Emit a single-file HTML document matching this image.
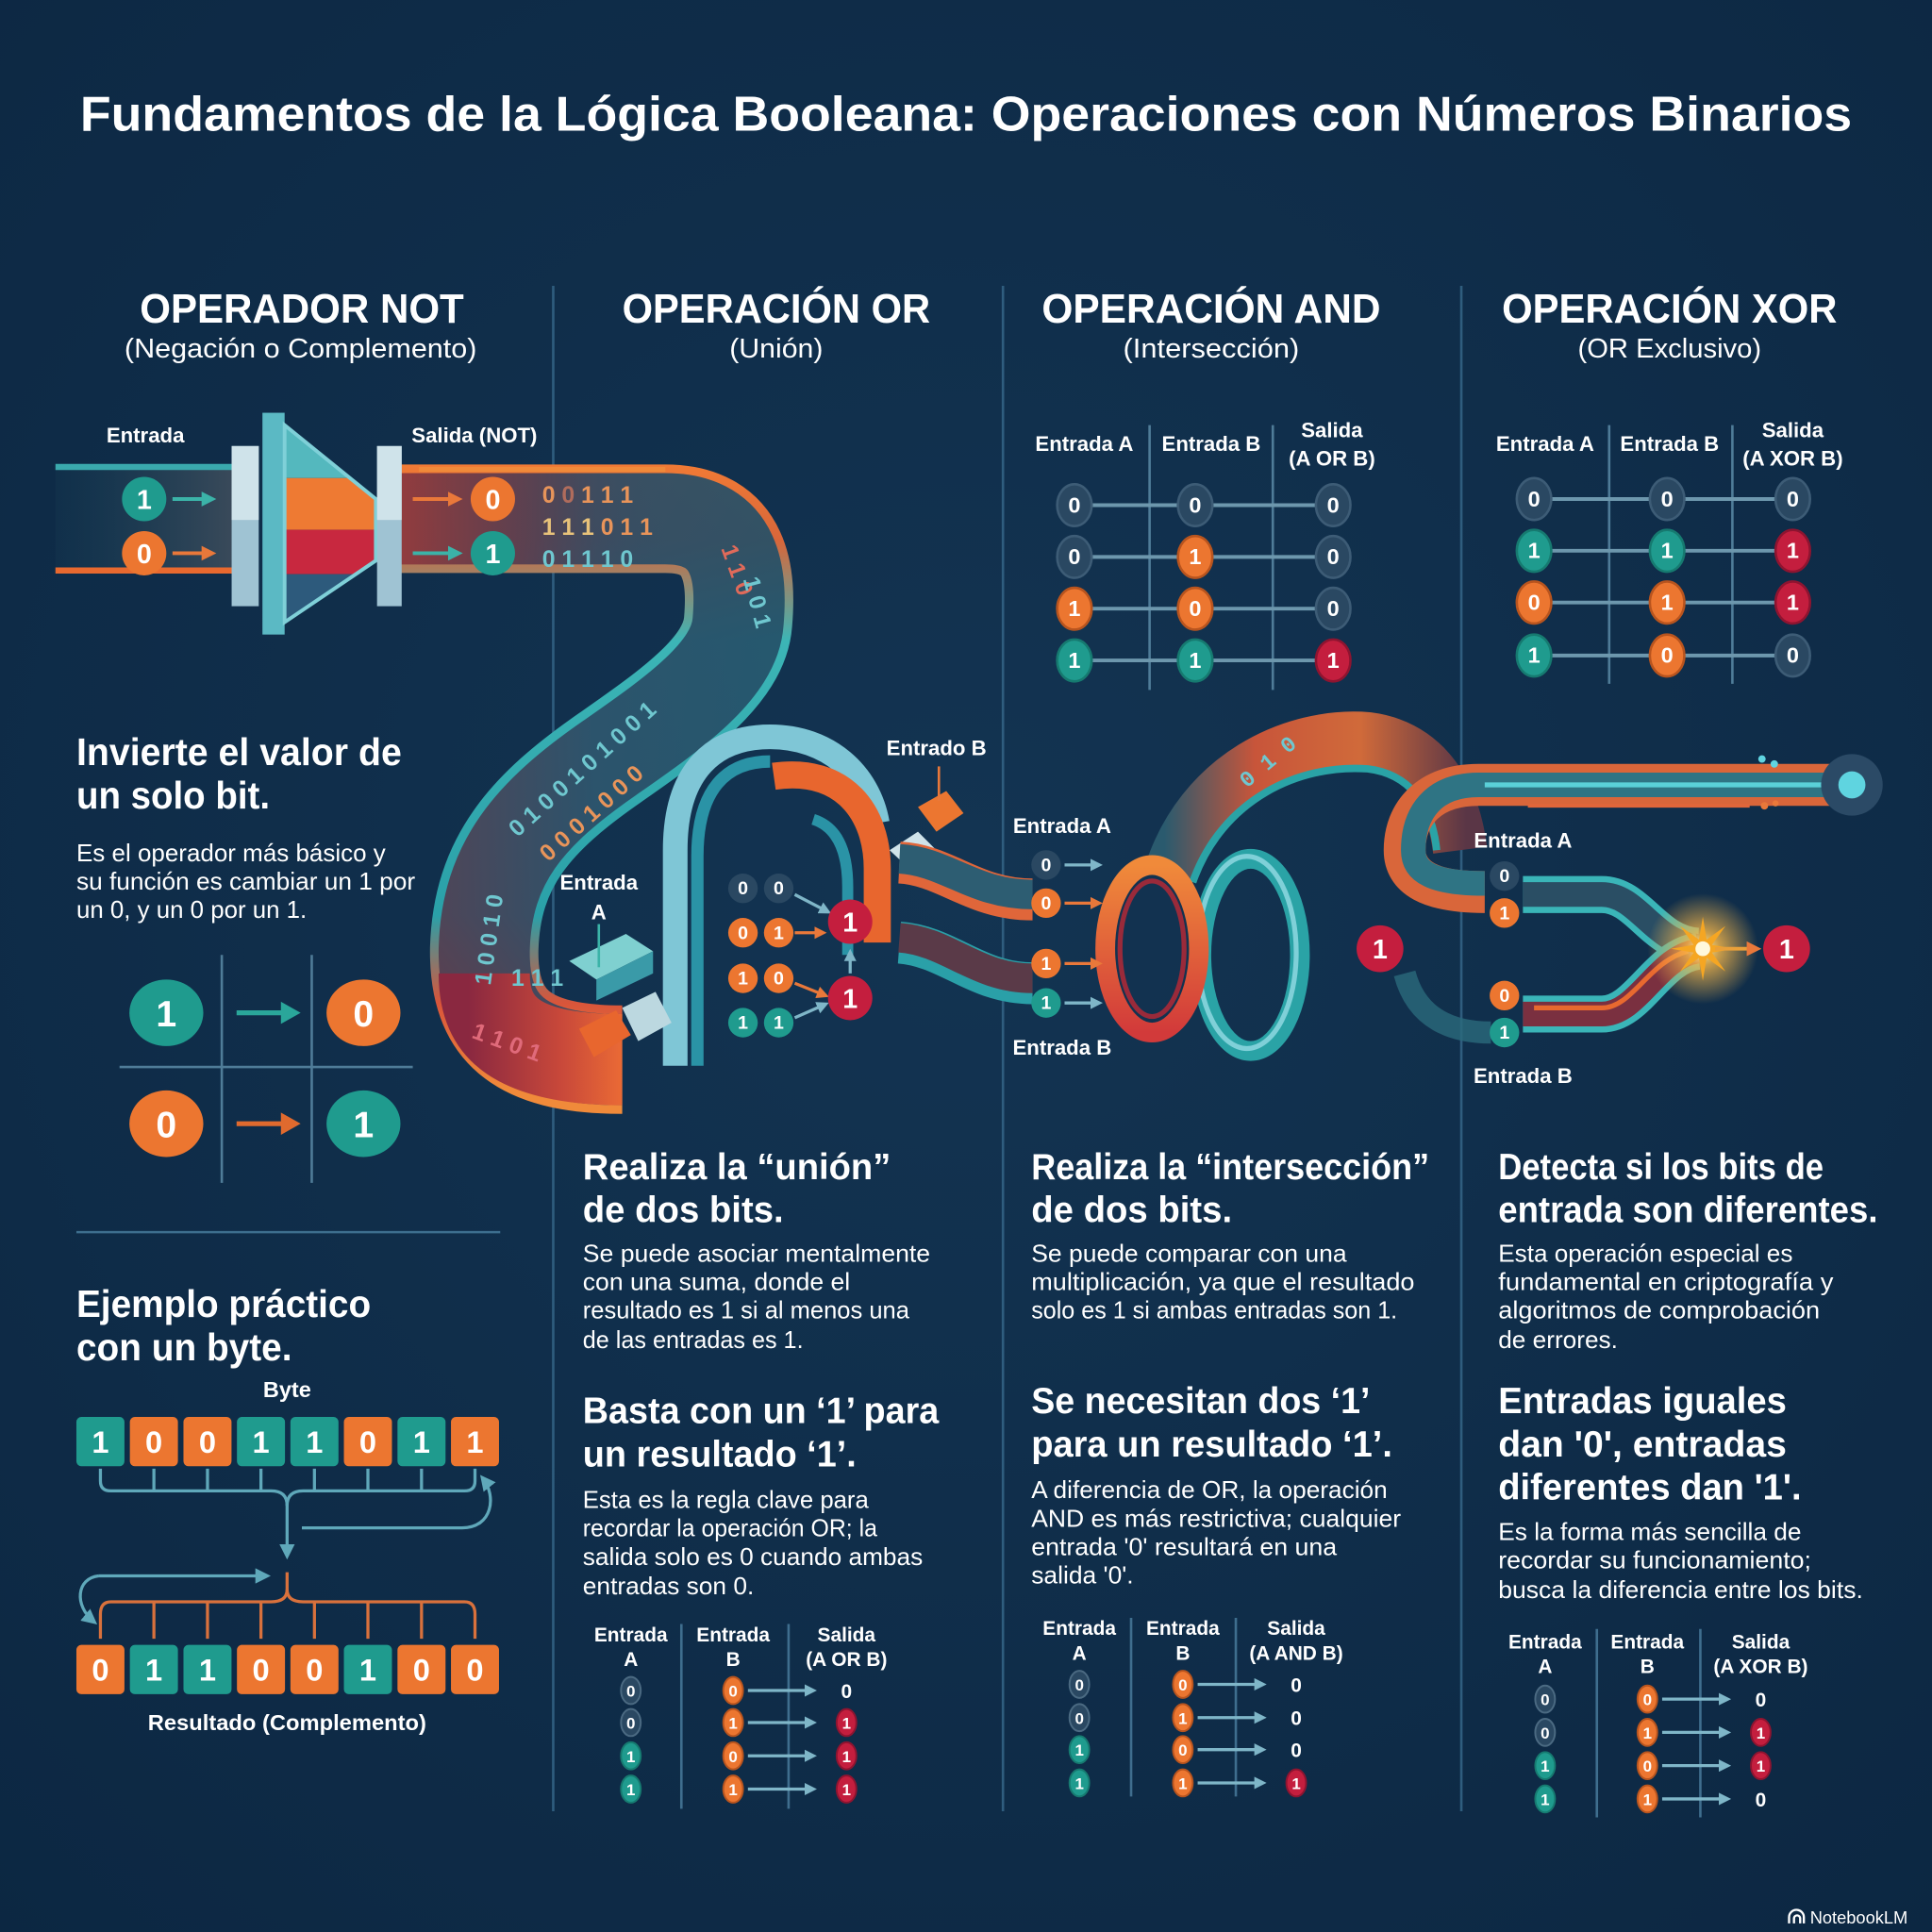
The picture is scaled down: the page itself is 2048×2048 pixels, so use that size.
<!DOCTYPE html>
<html><head><meta charset="utf-8">
<style>
html,body{margin:0;padding:0;background:#0f2c48;}
svg{display:block}
text{font-family:"Liberation Sans","DejaVu Sans",sans-serif;}
.b{font-weight:bold}
.c{text-anchor:middle}
.n{font-family:"Liberation Mono","DejaVu Sans Mono",monospace;font-weight:bold}
</style></head><body>
<svg width="2048" height="2048" viewBox="0 0 1568 1568" xmlns="http://www.w3.org/2000/svg">
<defs>
 <radialGradient id="bg" cx="50%" cy="45%" r="75%"><stop offset="0" stop-color="#133452"/><stop offset="1" stop-color="#0c2742"/></radialGradient>
 <linearGradient id="band" x1="0" y1="0" x2="1" y2="0"><stop offset="0" stop-color="#1a4257" stop-opacity="0.2"/><stop offset="1" stop-color="#3a4a5a"/></linearGradient>
 <linearGradient id="rib" gradientUnits="userSpaceOnUse" x1="0" y1="378" x2="0" y2="885"><stop offset="0" stop-color="#f07a35"/><stop offset="0.12" stop-color="#d8663a"/><stop offset="0.28" stop-color="#3cb5b6"/><stop offset="0.72" stop-color="#2aa0a8"/><stop offset="0.86" stop-color="#d9553a"/><stop offset="1" stop-color="#f08a3a"/></linearGradient>
 <linearGradient id="ribIn" gradientUnits="userSpaceOnUse" x1="325" y1="0" x2="640" y2="0"><stop offset="0" stop-color="#5a3a4c"/><stop offset="0.5" stop-color="#2b4c66"/><stop offset="1" stop-color="#235068"/></linearGradient>
 <linearGradient id="ribTop" gradientUnits="userSpaceOnUse" x1="325" y1="0" x2="540" y2="0"><stop offset="0" stop-color="#9a3c3c" stop-opacity="0.85"/><stop offset="0.5" stop-color="#6a3a48" stop-opacity="0.5"/><stop offset="1" stop-color="#2b4c66" stop-opacity="0"/></linearGradient>
 <linearGradient id="ribBot" gradientUnits="userSpaceOnUse" x1="380" y1="0" x2="505" y2="0"><stop offset="0" stop-color="#8a2840"/><stop offset="0.6" stop-color="#c8483a"/><stop offset="1" stop-color="#ea6a35"/></linearGradient>
 <linearGradient id="arcG" gradientUnits="userSpaceOnUse" x1="945" y1="0" x2="1190" y2="0"><stop offset="0" stop-color="#2a5a6e"/><stop offset="0.3" stop-color="#c8553a"/><stop offset="0.65" stop-color="#d06a3a"/><stop offset="1" stop-color="#5a3646"/></linearGradient>
 <linearGradient id="ringO" x1="0" y1="0" x2="0" y2="1"><stop offset="0" stop-color="#f08a3a"/><stop offset="1" stop-color="#d23a3a"/></linearGradient>
 <radialGradient id="glow"><stop offset="0" stop-color="#fff3b0"/><stop offset="0.3" stop-color="#f7b84a" stop-opacity="0.8"/><stop offset="1" stop-color="#f7b84a" stop-opacity="0"/></radialGradient>
 <marker id="mT" viewBox="0 0 10 10" refX="7" refY="5" markerWidth="4" markerHeight="4" orient="auto"><path d="M0,0 L10,5 L0,10 z" fill="#3bb3a8"/></marker>
 <marker id="mO" viewBox="0 0 10 10" refX="7" refY="5" markerWidth="4" markerHeight="4" orient="auto"><path d="M0,0 L10,5 L0,10 z" fill="#e9783a"/></marker>
 <marker id="mL" viewBox="0 0 10 10" refX="7" refY="5" markerWidth="4" markerHeight="4" orient="auto"><path d="M0,0 L10,5 L0,10 z" fill="#7fb6c8"/></marker>
 <marker id="mB" viewBox="0 0 10 10" refX="7" refY="5" markerWidth="5" markerHeight="5" orient="auto"><path d="M0,0 L10,5 L0,10 z" fill="#5fa8ba"/></marker>
</defs>
<rect width="1568" height="1568" fill="url(#bg)"/>

<!-- dividers -->
<g stroke="#2f5d7e" stroke-width="2">
 <line x1="449" y1="232" x2="449" y2="1470"/>
 <line x1="814" y1="232" x2="814" y2="1470"/>
 <line x1="1186" y1="232" x2="1186" y2="1470"/>
</g>

<!-- Title -->
<g fill="#fff">
<text x="784" y="106" class="b c" font-size="40" textLength="1438" lengthAdjust="spacingAndGlyphs">Fundamentos de la Lógica Booleana: Operaciones con Números Binarios</text>
<text x="245" y="262" class="b c" font-size="33" textLength="263" lengthAdjust="spacingAndGlyphs">OPERADOR NOT</text>
<text x="244" y="290" class="c" font-size="22" textLength="286" lengthAdjust="spacingAndGlyphs">(Negación o Complemento)</text>
<text x="630" y="262" class="b c" font-size="33" textLength="250" lengthAdjust="spacingAndGlyphs">OPERACIÓN OR</text>
<text x="630" y="290" class="c" font-size="22" textLength="76" lengthAdjust="spacingAndGlyphs">(Unión)</text>
<text x="983" y="262" class="b c" font-size="33" textLength="275" lengthAdjust="spacingAndGlyphs">OPERACIÓN AND</text>
<text x="983" y="290" class="c" font-size="22" textLength="143" lengthAdjust="spacingAndGlyphs">(Intersección)</text>
<text x="1355" y="262" class="b c" font-size="33" textLength="272" lengthAdjust="spacingAndGlyphs">OPERACIÓN XOR</text>
<text x="1355" y="290" class="c" font-size="22" textLength="149" lengthAdjust="spacingAndGlyphs">(OR Exclusivo)</text>
</g>

<!-- NOT band -->
<rect x="45" y="378" width="145" height="87" fill="url(#band)"/>
<line x1="45" y1="379" x2="190" y2="379" stroke="#3aa9ad" stroke-width="5"/>
<line x1="45" y1="463" x2="190" y2="463" stroke="#e8692f" stroke-width="5"/>

<!-- ribbon -->
<path d="M325,421 L540,421 C600,421 602,470 599,505 C596,545 545,580 495,615 C430,660 395,700 393,770 C392,830 420,860 505,860" fill="none" stroke="url(#rib)" stroke-width="88"/>
<path d="M325,421 L540,421 C600,421 602,470 599,505 C596,545 545,580 495,615 C430,660 395,700 393,770 C392,830 420,860 505,860" fill="none" stroke="url(#ribIn)" stroke-width="74" opacity="0.92"/>
<path d="M325,421 H540" fill="none" stroke="url(#ribTop)" stroke-width="74"/>
<path d="M393,790 C393,835 420,860 505,860" fill="none" stroke="url(#ribBot)" stroke-width="74"/>
<path d="M340,381 H540" stroke="#f08a3a" stroke-width="4"/>

<!-- ribbon digits -->
<g class="n" font-size="19">
 <text x="440" y="408" fill="#e8945a">0 <tspan fill="#b06c5c">0</tspan> 1 1 1</text>
 <text x="440" y="434" fill="#e8c27a">1 1 1  <tspan fill="#e8945a">0 1 1</tspan></text>
 <text x="440" y="460" fill="#6fc7cf">0 1  1 1 0</text>
 <text x="585" y="445" fill="#e06a5a" transform="rotate(70 585 445)">1 1 0</text>
 <text x="603" y="470" fill="#6fc7cf" transform="rotate(75 603 470)">1 0 1</text>
 <text x="420" y="680" fill="#6fc7cf" transform="rotate(-42 420 680)">0 1 0 0 1 0 1 0 0 1</text>
 <text x="445" y="700" fill="#e8945a" transform="rotate(-42 445 700)">0 0 0 1 0 0 0</text>
 <text x="398" y="800" fill="#6fc7cf" transform="rotate(-82 398 800)">1 0 0 1 0</text>
 <text x="382" y="842" fill="#e06a7a" transform="rotate(20 382 842)">1 1 0 1</text>
 <text x="415" y="800" fill="#6fc7cf">1 1 1</text>
</g>

<!-- NOT gate -->
<rect x="188" y="362" width="22" height="130" fill="#9fc3d3"/>
<rect x="188" y="362" width="22" height="60" fill="#cfe3ea"/>
<rect x="213" y="335" width="18" height="180" fill="#5bb9c4"/>
<clipPath id="fun"><polygon points="231,345 305,405 305,455 231,505"/></clipPath>
<g clip-path="url(#fun)">
 <rect x="231" y="340" width="80" height="48" fill="#54b8be"/>
 <rect x="231" y="388" width="80" height="42" fill="#ee7a33"/>
 <rect x="231" y="430" width="80" height="36" fill="#c8283f"/>
 <rect x="231" y="466" width="80" height="45" fill="#2d5a7c"/>
</g>
<polygon points="231,345 305,405 305,455 231,505" fill="none" stroke="#7fd0d8" stroke-width="3"/>
<rect x="306" y="362" width="20" height="130" fill="#9fc3d3"/>
<rect x="306" y="362" width="20" height="60" fill="#cfe3ea"/>

<!-- NOT circles -->
<circle cx="117" cy="405" r="18" fill="#1f9b8e"/>
<circle cx="117" cy="449" r="18" fill="#ec7630"/>
<circle cx="400" cy="405" r="18" fill="#ec7630"/>
<circle cx="400" cy="449" r="18" fill="#1f9b8e"/>
<line x1="140" y1="405" x2="172" y2="405" stroke="#3bb3a8" stroke-width="3" marker-end="url(#mT)"/>
<line x1="140" y1="449" x2="172" y2="449" stroke="#e9783a" stroke-width="3" marker-end="url(#mO)"/>
<line x1="335" y1="405" x2="372" y2="405" stroke="#e9783a" stroke-width="3" marker-end="url(#mO)"/>
<line x1="335" y1="449" x2="372" y2="449" stroke="#3bb3a8" stroke-width="3" marker-end="url(#mT)"/>
<g fill="#fff" font-size="22">
 <text x="117" y="413" class="b c">1</text><text x="117" y="457" class="b c">0</text>
 <text x="400" y="413" class="b c">0</text><text x="400" y="457" class="b c">1</text>
</g>

<!-- OR arch -->
<path d="M548,865 V690 C548,625 580,598 625,598 C672,598 705,628 712,668" fill="none" stroke="#7fc6d6" stroke-width="20"/>
<path d="M566,865 V695 C566,640 590,618 625,618" fill="none" stroke="#2a93a6" stroke-width="10"/>
<path d="M628,630 C685,622 712,660 712,705 V765" fill="none" stroke="#e8662e" stroke-width="22"/>
<path d="M660,665 C682,672 688,695 688,720 V775" fill="none" stroke="#2a93a6" stroke-width="9"/>
<polygon points="462,780 508,758 530,772 484,795" fill="#7fd0d0"/>
<polygon points="484,795 530,772 530,790 484,812" fill="#3a9aa8"/>
<polygon points="470,835 500,820 512,840 482,858" fill="#e8662e"/>
<polygon points="505,818 532,805 545,830 518,845" fill="#bcd8e0"/>
<polygon points="722,690 745,675 760,690 738,705" fill="#cfe3ea"/>
<polygon points="745,655 768,642 782,660 760,675" fill="#ec7630"/>
<line x1="762" y1="622" x2="762" y2="650" stroke="#e9783a" stroke-width="2"/>
<line x1="486" y1="750" x2="486" y2="785" stroke="#3bb3a8" stroke-width="2"/>

<!-- pipes OR -> AND -->
<path d="M730,700 C768,702 790,730 838,730" fill="none" stroke="#e0663a" stroke-width="34"/>
<path d="M730,697 C768,699 790,726 838,726" fill="none" stroke="#2d5d72" stroke-width="24"/>
<path d="M730,765 C770,768 792,798 838,798" fill="none" stroke="#2aa0a8" stroke-width="34"/>
<path d="M730,761 C770,764 792,794 838,794" fill="none" stroke="#5a3a48" stroke-width="24"/>

<!-- OR inline circles -->
<g stroke-width="2.5" fill="none">
 <line x1="645" y1="726" x2="672" y2="740" stroke="#7fb6c8" marker-end="url(#mL)"/>
 <line x1="645" y1="757" x2="668" y2="757" stroke="#e9783a" marker-end="url(#mO)"/>
 <line x1="645" y1="798" x2="670" y2="808" stroke="#e9783a" marker-end="url(#mO)"/>
 <line x1="645" y1="826" x2="670" y2="815" stroke="#7fb6c8" marker-end="url(#mL)"/>
 <line x1="690" y1="790" x2="690" y2="773" stroke="#7fb6c8" marker-end="url(#mL)"/>
</g>
<g>
 <circle cx="603" cy="721" r="12" fill="#2a4862"/><circle cx="632" cy="721" r="12" fill="#2a4862"/>
 <circle cx="603" cy="757" r="12" fill="#ec7630"/><circle cx="632" cy="757" r="12" fill="#ec7630"/>
 <circle cx="603" cy="794" r="12" fill="#ec7630"/><circle cx="632" cy="794" r="12" fill="#ec7630"/>
 <circle cx="603" cy="830" r="12" fill="#1f9b8e"/><circle cx="632" cy="830" r="12" fill="#1f9b8e"/>
 <circle cx="690" cy="748" r="18" fill="#c41e3e"/><circle cx="690" cy="810" r="18" fill="#c41e3e"/>
</g>
<g fill="#fff" font-size="15">
 <text x="603" y="726" class="b c">0</text><text x="632" y="726" class="b c">0</text>
 <text x="603" y="762" class="b c">0</text><text x="632" y="762" class="b c">1</text>
 <text x="603" y="799" class="b c">1</text><text x="632" y="799" class="b c">0</text>
 <text x="603" y="835" class="b c">1</text><text x="632" y="835" class="b c">1</text>
 <text x="690" y="756" class="b c" font-size="22">1</text><text x="690" y="818" class="b c" font-size="22">1</text>
</g>

<!-- AND arc -->
<path d="M950,710 C975,630 1050,595 1110,600 C1150,605 1178,635 1185,690" fill="none" stroke="url(#arcG)" stroke-width="44"/>
<path d="M968,716 C992,648 1055,620 1110,624 C1143,628 1162,652 1166,690" fill="none" stroke="#2aa3a6" stroke-width="6"/>
<text x="1012" y="640" class="n" font-size="18" fill="#6fc7cf" transform="rotate(-40 1012 640)">0 1 0</text>

<!-- AND rings -->
<ellipse cx="1015" cy="775" rx="40" ry="78" fill="none" stroke="#2aa3a6" stroke-width="16"/>
<ellipse cx="1015" cy="775" rx="40" ry="78" fill="none" stroke="#7fd0d8" stroke-width="4" transform="translate(-3,-2)"/>
<ellipse cx="935" cy="770" rx="38" ry="68" fill="none" stroke="url(#ringO)" stroke-width="16"/>
<ellipse cx="935" cy="770" rx="26" ry="55" fill="none" stroke="#9a2a3a" stroke-width="4"/>

<!-- AND inline circles -->
<g stroke-width="2.5">
 <line x1="864" y1="702" x2="892" y2="702" stroke="#7fb6c8" marker-end="url(#mL)"/>
 <line x1="864" y1="733" x2="892" y2="733" stroke="#e9783a" marker-end="url(#mO)"/>
 <line x1="864" y1="782" x2="892" y2="782" stroke="#e9783a" marker-end="url(#mO)"/>
 <line x1="864" y1="814" x2="892" y2="814" stroke="#7fb6c8" marker-end="url(#mL)"/>
</g>
<circle cx="849" cy="702" r="12" fill="#2a4862"/><circle cx="849" cy="733" r="12" fill="#ec7630"/>
<circle cx="849" cy="782" r="12" fill="#ec7630"/><circle cx="849" cy="814" r="12" fill="#1f9b8e"/>
<circle cx="1120" cy="770" r="19" fill="#c41e3e"/>
<g fill="#fff" font-size="15">
 <text x="849" y="707" class="b c">0</text><text x="849" y="738" class="b c">0</text>
 <text x="849" y="787" class="b c">1</text><text x="849" y="819" class="b c">1</text>
 <text x="1120" y="778" class="b c" font-size="22">1</text>
</g>

<!-- XOR pipes -->
<path d="M1500,637 H1200 C1160,637 1140,660 1140,690 C1140,712 1160,724 1205,724" fill="none" stroke="#d9663a" stroke-width="34"/>
<path d="M1480,637 H1200 C1163,637 1147,660 1147,690 C1147,708 1163,717 1205,717" fill="none" stroke="#2f7484" stroke-width="20"/>
<line x1="1205" y1="637" x2="1492" y2="637" stroke="#5ad0d8" stroke-width="4"/>
<line x1="1240" y1="654" x2="1420" y2="654" stroke="#e0663a" stroke-width="3"/>
<circle cx="1503" cy="637" r="25" fill="#2b4a66"/>
<circle cx="1503" cy="637" r="11" fill="#5fd4e0"/>
<circle cx="1430" cy="616" r="3" fill="#5fd4e0"/><circle cx="1440" cy="620" r="3" fill="#5fd4e0"/>
<circle cx="1432" cy="654" r="3" fill="#e9783a"/><circle cx="1441" cy="652" r="2.5" fill="#e9783a"/>
<path d="M1140,790 C1150,828 1180,838 1210,838" fill="none" stroke="#2a6a7c" stroke-width="18" opacity="0.8"/>
<path d="M1236,726 H1300 C1330,726 1342,766 1378,768" fill="none" stroke="#3ab5b8" stroke-width="30"/>
<path d="M1236,726 H1300 C1330,726 1342,766 1378,768" fill="none" stroke="#2a4e64" stroke-width="20"/>
<path d="M1236,823 H1300 C1330,823 1345,776 1378,772" fill="none" stroke="#3ab5b8" stroke-width="30"/>
<path d="M1236,823 H1300 C1330,823 1345,776 1378,772" fill="none" stroke="#7a3040" stroke-width="20"/>
<path d="M1245,818 H1300 C1325,818 1338,780 1370,772" fill="none" stroke="#e8692f" stroke-width="4"/>
<circle cx="1382" cy="770" r="45" fill="url(#glow)"/>
<polygon points="1408,770 1389.4,773.1 1400.4,788.4 1385.1,777.4 1382,796 1378.9,777.4 1363.6,788.4 1374.6,773.1 1356,770 1374.6,766.9 1363.6,751.6 1378.9,762.6 1382,744 1385.1,762.6 1400.4,751.6 1389.4,766.9" fill="#f5a623"/>
<circle cx="1382" cy="770" r="6" fill="#fff8dc"/>
<line x1="1392" y1="770" x2="1426" y2="770" stroke="#e9a03a" stroke-width="3" marker-end="url(#mO)"/>
<circle cx="1221" cy="711" r="12" fill="#2a4862"/><circle cx="1221" cy="741" r="12" fill="#ec7630"/>
<circle cx="1221" cy="808" r="12" fill="#ec7630"/><circle cx="1221" cy="838" r="12" fill="#1f9b8e"/>
<circle cx="1450" cy="770" r="19" fill="#c41e3e"/>
<g fill="#fff" font-size="15">
 <text x="1221" y="716" class="b c">0</text><text x="1221" y="746" class="b c">1</text>
 <text x="1221" y="813" class="b c">0</text><text x="1221" y="843" class="b c">1</text>
 <text x="1450" y="778" class="b c" font-size="22">1</text>
</g>

<!-- AND/XOR truth tables (top) -->
<g stroke="#4f7c98" stroke-width="2">
 <line x1="933" y1="345" x2="933" y2="560"/><line x1="1033" y1="345" x2="1033" y2="560"/>
 <line x1="1306" y1="345" x2="1306" y2="555"/><line x1="1406" y1="345" x2="1406" y2="555"/>
</g>
<g stroke="#6d97ad" stroke-width="3">
 <line x1="872" y1="410" x2="1068" y2="410"/><line x1="872" y1="452" x2="1068" y2="452"/>
 <line x1="872" y1="494" x2="1068" y2="494"/><line x1="872" y1="536" x2="1068" y2="536"/>
 <line x1="1245" y1="405" x2="1441" y2="405"/><line x1="1245" y1="447" x2="1441" y2="447"/>
 <line x1="1245" y1="489" x2="1441" y2="489"/><line x1="1245" y1="532" x2="1441" y2="532"/>
</g>
<g stroke-width="2">
 <ellipse cx="872" cy="410" rx="14" ry="17" fill="#2a4862" stroke="#3d5c76"/>
 <ellipse cx="970" cy="410" rx="14" ry="17" fill="#2a4862" stroke="#3d5c76"/>
 <ellipse cx="1082" cy="410" rx="14" ry="17" fill="#2a4862" stroke="#3d5c76"/>
 <ellipse cx="872" cy="452" rx="14" ry="17" fill="#2a4862" stroke="#3d5c76"/>
 <ellipse cx="970" cy="452" rx="14" ry="17" fill="#ec7630" stroke="#b8541e"/>
 <ellipse cx="1082" cy="452" rx="14" ry="17" fill="#2a4862" stroke="#3d5c76"/>
 <ellipse cx="872" cy="494" rx="14" ry="17" fill="#ec7630" stroke="#b8541e"/>
 <ellipse cx="970" cy="494" rx="14" ry="17" fill="#ec7630" stroke="#b8541e"/>
 <ellipse cx="1082" cy="494" rx="14" ry="17" fill="#2a4862" stroke="#3d5c76"/>
 <ellipse cx="872" cy="536" rx="14" ry="17" fill="#1f9b8e" stroke="#167a70"/>
 <ellipse cx="970" cy="536" rx="14" ry="17" fill="#1f9b8e" stroke="#167a70"/>
 <ellipse cx="1082" cy="536" rx="14" ry="17" fill="#c41e3e" stroke="#8e1430"/>
 <ellipse cx="1245" cy="405" rx="14" ry="17" fill="#2a4862" stroke="#3d5c76"/>
 <ellipse cx="1353" cy="405" rx="14" ry="17" fill="#2a4862" stroke="#3d5c76"/>
 <ellipse cx="1455" cy="405" rx="14" ry="17" fill="#2a4862" stroke="#3d5c76"/>
 <ellipse cx="1245" cy="447" rx="14" ry="17" fill="#1f9b8e" stroke="#167a70"/>
 <ellipse cx="1353" cy="447" rx="14" ry="17" fill="#1f9b8e" stroke="#167a70"/>
 <ellipse cx="1455" cy="447" rx="14" ry="17" fill="#c41e3e" stroke="#8e1430"/>
 <ellipse cx="1245" cy="489" rx="14" ry="17" fill="#ec7630" stroke="#b8541e"/>
 <ellipse cx="1353" cy="489" rx="14" ry="17" fill="#ec7630" stroke="#b8541e"/>
 <ellipse cx="1455" cy="489" rx="14" ry="17" fill="#c41e3e" stroke="#8e1430"/>
 <ellipse cx="1245" cy="532" rx="14" ry="17" fill="#1f9b8e" stroke="#167a70"/>
 <ellipse cx="1353" cy="532" rx="14" ry="17" fill="#ec7630" stroke="#b8541e"/>
 <ellipse cx="1455" cy="532" rx="14" ry="17" fill="#2a4862" stroke="#3d5c76"/>
</g>
<g fill="#fff" font-size="18">
 <text x="872" y="416" class="b c">0</text><text x="970" y="416" class="b c">0</text><text x="1082" y="416" class="b c">0</text>
 <text x="872" y="458" class="b c">0</text><text x="970" y="458" class="b c">1</text><text x="1082" y="458" class="b c">0</text>
 <text x="872" y="500" class="b c">1</text><text x="970" y="500" class="b c">0</text><text x="1082" y="500" class="b c">0</text>
 <text x="872" y="542" class="b c">1</text><text x="970" y="542" class="b c">1</text><text x="1082" y="542" class="b c">1</text>
 <text x="1245" y="411" class="b c">0</text><text x="1353" y="411" class="b c">0</text><text x="1455" y="411" class="b c">0</text>
 <text x="1245" y="453" class="b c">1</text><text x="1353" y="453" class="b c">1</text><text x="1455" y="453" class="b c">1</text>
 <text x="1245" y="495" class="b c">0</text><text x="1353" y="495" class="b c">1</text><text x="1455" y="495" class="b c">1</text>
 <text x="1245" y="538" class="b c">1</text><text x="1353" y="538" class="b c">0</text><text x="1455" y="538" class="b c">0</text>
</g>
<g fill="#fff" font-size="17">
 <text x="880" y="366" class="b c">Entrada A</text><text x="983" y="366" class="b c">Entrada B</text>
 <text x="1081" y="355" class="b c">Salida</text><text x="1081" y="378" class="b c">(A OR B)</text>
 <text x="1254" y="366" class="b c">Entrada A</text><text x="1355" y="366" class="b c">Entrada B</text>
 <text x="1455" y="355" class="b c">Salida</text><text x="1455" y="378" class="b c">(A XOR B)</text>
</g>

<!-- NOT left text -->
<g fill="#fff">
 <text x="62" y="621" class="b" font-size="31" textLength="264" lengthAdjust="spacingAndGlyphs">Invierte el valor de</text>
 <text x="62" y="656" class="b" font-size="31" textLength="157" lengthAdjust="spacingAndGlyphs">un solo bit.</text>
 <text x="62" y="699" font-size="20" textLength="251" lengthAdjust="spacingAndGlyphs">Es el operador más básico y</text>
 <text x="62" y="722" font-size="20" textLength="275" lengthAdjust="spacingAndGlyphs">su función es cambiar un 1 por</text>
 <text x="62" y="745" font-size="20" textLength="187" lengthAdjust="spacingAndGlyphs">un 0, y un 0 por un 1.</text>
</g>

<!-- NOT grid -->
<g stroke="#4f7c98" stroke-width="2">
 <line x1="180" y1="775" x2="180" y2="960"/><line x1="253" y1="775" x2="253" y2="960"/>
 <line x1="97" y1="866" x2="335" y2="866"/>
</g>
<ellipse cx="135" cy="822" rx="30" ry="27" fill="#1f9b8e"/>
<ellipse cx="295" cy="822" rx="30" ry="27" fill="#ec7630"/>
<ellipse cx="135" cy="912" rx="30" ry="27" fill="#ec7630"/>
<ellipse cx="295" cy="912" rx="30" ry="27" fill="#1f9b8e"/>
<line x1="192" y1="822" x2="230" y2="822" stroke="#2aa69a" stroke-width="4"/>
<polygon points="228,813 244,822 228,831" fill="#2aa69a"/>
<line x1="192" y1="912" x2="230" y2="912" stroke="#e06a2e" stroke-width="4"/>
<polygon points="228,903 244,912 228,921" fill="#e06a2e"/>
<g fill="#fff" font-size="30">
 <text x="135" y="833" class="b c">1</text><text x="295" y="833" class="b c">0</text>
 <text x="135" y="923" class="b c">0</text><text x="295" y="923" class="b c">1</text>
</g>

<line x1="62" y1="1000" x2="406" y2="1000" stroke="#3d6e8e" stroke-width="2"/>

<g fill="#fff">
 <text x="62" y="1069" class="b" font-size="31" textLength="239" lengthAdjust="spacingAndGlyphs">Ejemplo práctico</text>
 <text x="62" y="1104" class="b" font-size="31" textLength="175" lengthAdjust="spacingAndGlyphs">con un byte.</text>
 <text x="233" y="1134" class="b c" font-size="18">Byte</text>
 <text x="233" y="1404" class="b c" font-size="18" textLength="226" lengthAdjust="spacingAndGlyphs">Resultado (Complemento)</text>
</g>

<!-- byte boxes -->
<g>
 <rect x="62" y="1150" width="39" height="40" rx="4" fill="#1f9b8e"/>
 <rect x="105.4" y="1150" width="39" height="40" rx="4" fill="#ec7630"/>
 <rect x="148.9" y="1150" width="39" height="40" rx="4" fill="#ec7630"/>
 <rect x="192.3" y="1150" width="39" height="40" rx="4" fill="#1f9b8e"/>
 <rect x="235.7" y="1150" width="39" height="40" rx="4" fill="#1f9b8e"/>
 <rect x="279.1" y="1150" width="39" height="40" rx="4" fill="#ec7630"/>
 <rect x="322.6" y="1150" width="39" height="40" rx="4" fill="#1f9b8e"/>
 <rect x="366" y="1150" width="39" height="40" rx="4" fill="#ec7630"/>
 <rect x="62" y="1335" width="39" height="40" rx="4" fill="#ec7630"/>
 <rect x="105.4" y="1335" width="39" height="40" rx="4" fill="#1f9b8e"/>
 <rect x="148.9" y="1335" width="39" height="40" rx="4" fill="#1f9b8e"/>
 <rect x="192.3" y="1335" width="39" height="40" rx="4" fill="#ec7630"/>
 <rect x="235.7" y="1335" width="39" height="40" rx="4" fill="#ec7630"/>
 <rect x="279.1" y="1335" width="39" height="40" rx="4" fill="#1f9b8e"/>
 <rect x="322.6" y="1335" width="39" height="40" rx="4" fill="#ec7630"/>
 <rect x="366" y="1335" width="39" height="40" rx="4" fill="#ec7630"/>
</g>
<g fill="#fff" font-size="25">
 <text x="81.5" y="1179" class="b c">1</text><text x="124.9" y="1179" class="b c">0</text><text x="168.4" y="1179" class="b c">0</text><text x="211.8" y="1179" class="b c">1</text>
 <text x="255.2" y="1179" class="b c">1</text><text x="298.6" y="1179" class="b c">0</text><text x="342.1" y="1179" class="b c">1</text><text x="385.5" y="1179" class="b c">1</text>
 <text x="81.5" y="1364" class="b c">0</text><text x="124.9" y="1364" class="b c">1</text><text x="168.4" y="1364" class="b c">1</text><text x="211.8" y="1364" class="b c">0</text>
 <text x="255.2" y="1364" class="b c">0</text><text x="298.6" y="1364" class="b c">1</text><text x="342.1" y="1364" class="b c">0</text><text x="385.5" y="1364" class="b c">0</text>
</g>
<!-- connectors -->
<g fill="none" stroke="#5fa8ba" stroke-width="2.5">
 <path d="M81.5,1192 V1202 Q81.5,1210 90,1210 H220 Q233,1210 233,1222"/>
 <path d="M385.5,1192 V1202 Q385.5,1210 377,1210 H246 Q233,1210 233,1222"/>
 <path d="M124.9,1192 V1210 M168.4,1192 V1210 M211.8,1192 V1210 M255.2,1192 V1210 M298.6,1192 V1210 M342.1,1192 V1210"/>
 <path d="M233,1220 V1262" marker-end="url(#mB)"/>
 <path d="M245,1240 H375 C400,1240 403,1214 392,1200" marker-end="url(#mB)"/>
 <path d="M80,1279 H216" marker-end="url(#mB)"/>
 <path d="M80,1279 C62,1281 60,1303 76,1316" marker-end="url(#mB)"/>
</g>
<g fill="none" stroke="#d9713c" stroke-width="2.5">
 <path d="M233,1276 V1290 Q233,1300 220,1300 H90 Q81.5,1300 81.5,1310 V1330"/>
 <path d="M233,1290 Q233,1300 246,1300 H377 Q385.5,1300 385.5,1310 V1330"/>
 <path d="M124.9,1300 V1330 M168.4,1300 V1330 M211.8,1300 V1330 M255.2,1300 V1330 M298.6,1300 V1330 M342.1,1300 V1330"/>
</g>

<!-- bottom texts -->
<g fill="#fff">
 <text x="473" y="957" class="b" font-size="30" textLength="250" lengthAdjust="spacingAndGlyphs">Realiza la “unión”</text>
 <text x="473" y="992" class="b" font-size="30" textLength="163" lengthAdjust="spacingAndGlyphs">de dos bits.</text>
 <text x="473" y="1024" font-size="20" textLength="282" lengthAdjust="spacingAndGlyphs">Se puede asociar mentalmente</text>
 <text x="473" y="1047" font-size="20" textLength="217" lengthAdjust="spacingAndGlyphs">con una suma, donde el</text>
 <text x="473" y="1070" font-size="20" textLength="265" lengthAdjust="spacingAndGlyphs">resultado es 1 si al menos una</text>
 <text x="473" y="1094" font-size="20" textLength="179" lengthAdjust="spacingAndGlyphs">de las entradas es 1.</text>
 <text x="473" y="1155" class="b" font-size="30" textLength="289" lengthAdjust="spacingAndGlyphs">Basta con un ‘1’ para</text>
 <text x="473" y="1190" class="b" font-size="30" textLength="222" lengthAdjust="spacingAndGlyphs">un resultado ‘1’.</text>
 <text x="473" y="1224" font-size="20" textLength="232" lengthAdjust="spacingAndGlyphs">Esta es la regla clave para</text>
 <text x="473" y="1247" font-size="20" textLength="239" lengthAdjust="spacingAndGlyphs">recordar la operación OR; la</text>
 <text x="473" y="1270" font-size="20" textLength="276" lengthAdjust="spacingAndGlyphs">salida solo es 0 cuando ambas</text>
 <text x="473" y="1294" font-size="20" textLength="139" lengthAdjust="spacingAndGlyphs">entradas son 0.</text>

 <text x="837" y="957" class="b" font-size="30" textLength="323" lengthAdjust="spacingAndGlyphs">Realiza la “intersección”</text>
 <text x="837" y="992" class="b" font-size="30" textLength="163" lengthAdjust="spacingAndGlyphs">de dos bits.</text>
 <text x="837" y="1024" font-size="20" textLength="256" lengthAdjust="spacingAndGlyphs">Se puede comparar con una</text>
 <text x="837" y="1047" font-size="20" textLength="311" lengthAdjust="spacingAndGlyphs">multiplicación, ya que el resultado</text>
 <text x="837" y="1070" font-size="20" textLength="297" lengthAdjust="spacingAndGlyphs">solo es 1 si ambas entradas son 1.</text>
 <text x="837" y="1147" class="b" font-size="30" textLength="275" lengthAdjust="spacingAndGlyphs">Se necesitan dos ‘1’</text>
 <text x="837" y="1182" class="b" font-size="30" textLength="293" lengthAdjust="spacingAndGlyphs">para un resultado ‘1’.</text>
 <text x="837" y="1216" font-size="20" textLength="289" lengthAdjust="spacingAndGlyphs">A diferencia de OR, la operación</text>
 <text x="837" y="1239" font-size="20" textLength="300" lengthAdjust="spacingAndGlyphs">AND es más restrictiva; cualquier</text>
 <text x="837" y="1262" font-size="20" textLength="248" lengthAdjust="spacingAndGlyphs">entrada '0' resultará en una</text>
 <text x="837" y="1285" font-size="20" textLength="83" lengthAdjust="spacingAndGlyphs">salida '0'.</text>

 <text x="1216" y="957" class="b" font-size="30" textLength="264" lengthAdjust="spacingAndGlyphs">Detecta si los bits de</text>
 <text x="1216" y="992" class="b" font-size="30" textLength="308" lengthAdjust="spacingAndGlyphs">entrada son diferentes.</text>
 <text x="1216" y="1024" font-size="20" textLength="239" lengthAdjust="spacingAndGlyphs">Esta operación especial es</text>
 <text x="1216" y="1047" font-size="20" textLength="272" lengthAdjust="spacingAndGlyphs">fundamental en criptografía y</text>
 <text x="1216" y="1070" font-size="20" textLength="261" lengthAdjust="spacingAndGlyphs">algoritmos de comprobación</text>
 <text x="1216" y="1094" font-size="20" textLength="97" lengthAdjust="spacingAndGlyphs">de errores.</text>
 <text x="1216" y="1147" class="b" font-size="30" textLength="234" lengthAdjust="spacingAndGlyphs">Entradas iguales</text>
 <text x="1216" y="1182" class="b" font-size="30" textLength="234" lengthAdjust="spacingAndGlyphs">dan '0', entradas</text>
 <text x="1216" y="1217" class="b" font-size="30" textLength="246" lengthAdjust="spacingAndGlyphs">diferentes dan '1'.</text>
 <text x="1216" y="1250" font-size="20" textLength="246" lengthAdjust="spacingAndGlyphs">Es la forma más sencilla de</text>
 <text x="1216" y="1273" font-size="20" textLength="254" lengthAdjust="spacingAndGlyphs">recordar su funcionamiento;</text>
 <text x="1216" y="1297" font-size="20" textLength="296" lengthAdjust="spacingAndGlyphs">busca la diferencia entre los bits.</text>
</g>

<!-- bottom tables -->
<g stroke="#3f6e8e" stroke-width="2">
 <line x1="553" y1="1318" x2="553" y2="1468"/><line x1="640" y1="1318" x2="640" y2="1468"/>
 <line x1="918" y1="1313" x2="918" y2="1458"/><line x1="1003" y1="1313" x2="1003" y2="1458"/>
 <line x1="1296" y1="1322" x2="1296" y2="1475"/><line x1="1380" y1="1322" x2="1380" y2="1475"/>
</g>
<g fill="#fff" font-size="16">
 <text x="512" y="1332" class="b c">Entrada</text><text x="512" y="1352" class="b c">A</text>
 <text x="595" y="1332" class="b c">Entrada</text><text x="595" y="1352" class="b c">B</text>
 <text x="687" y="1332" class="b c">Salida</text><text x="687" y="1352" class="b c">(A OR B)</text>
 <text x="876" y="1327" class="b c">Entrada</text><text x="876" y="1347" class="b c">A</text>
 <text x="960" y="1327" class="b c">Entrada</text><text x="960" y="1347" class="b c">B</text>
 <text x="1052" y="1327" class="b c">Salida</text><text x="1052" y="1347" class="b c">(A AND B)</text>
 <text x="1254" y="1338" class="b c">Entrada</text><text x="1254" y="1358" class="b c">A</text>
 <text x="1337" y="1338" class="b c">Entrada</text><text x="1337" y="1358" class="b c">B</text>
 <text x="1429" y="1338" class="b c">Salida</text><text x="1429" y="1358" class="b c">(A XOR B)</text>
</g>
<g stroke="#7fb6c8" stroke-width="2.5">
 <line x1="607" y1="1372" x2="660" y2="1372" marker-end="url(#mL)"/><line x1="607" y1="1398" x2="660" y2="1398" marker-end="url(#mL)"/>
 <line x1="607" y1="1425" x2="660" y2="1425" marker-end="url(#mL)"/><line x1="607" y1="1452" x2="660" y2="1452" marker-end="url(#mL)"/>
 <line x1="972" y1="1367" x2="1025" y2="1367" marker-end="url(#mL)"/><line x1="972" y1="1394" x2="1025" y2="1394" marker-end="url(#mL)"/>
 <line x1="972" y1="1420" x2="1025" y2="1420" marker-end="url(#mL)"/><line x1="972" y1="1447" x2="1025" y2="1447" marker-end="url(#mL)"/>
 <line x1="1349" y1="1379" x2="1402" y2="1379" marker-end="url(#mL)"/><line x1="1349" y1="1406" x2="1402" y2="1406" marker-end="url(#mL)"/>
 <line x1="1349" y1="1433" x2="1402" y2="1433" marker-end="url(#mL)"/><line x1="1349" y1="1460" x2="1402" y2="1460" marker-end="url(#mL)"/>
</g>
<g stroke-width="1.5">
 <ellipse cx="512" cy="1372" rx="8" ry="11" fill="#2a4862" stroke="#4b6a82"/><ellipse cx="512" cy="1398" rx="8" ry="11" fill="#2a4862" stroke="#4b6a82"/>
 <ellipse cx="512" cy="1425" rx="8" ry="11" fill="#1f9b8e" stroke="#167a70"/><ellipse cx="512" cy="1452" rx="8" ry="11" fill="#1f9b8e" stroke="#167a70"/>
 <ellipse cx="595" cy="1372" rx="8" ry="11" fill="#ec7630" stroke="#b8541e"/><ellipse cx="595" cy="1398" rx="8" ry="11" fill="#ec7630" stroke="#b8541e"/>
 <ellipse cx="595" cy="1425" rx="8" ry="11" fill="#ec7630" stroke="#b8541e"/><ellipse cx="595" cy="1452" rx="8" ry="11" fill="#ec7630" stroke="#b8541e"/>
 <ellipse cx="687" cy="1398" rx="8" ry="11" fill="#c41e3e" stroke="#8e1430"/><ellipse cx="687" cy="1425" rx="8" ry="11" fill="#c41e3e" stroke="#8e1430"/>
 <ellipse cx="687" cy="1452" rx="8" ry="11" fill="#c41e3e" stroke="#8e1430"/>

 <ellipse cx="876" cy="1367" rx="8" ry="11" fill="#2a4862" stroke="#4b6a82"/><ellipse cx="876" cy="1394" rx="8" ry="11" fill="#2a4862" stroke="#4b6a82"/>
 <ellipse cx="876" cy="1420" rx="8" ry="11" fill="#1f9b8e" stroke="#167a70"/><ellipse cx="876" cy="1447" rx="8" ry="11" fill="#1f9b8e" stroke="#167a70"/>
 <ellipse cx="960" cy="1367" rx="8" ry="11" fill="#ec7630" stroke="#b8541e"/><ellipse cx="960" cy="1394" rx="8" ry="11" fill="#ec7630" stroke="#b8541e"/>
 <ellipse cx="960" cy="1420" rx="8" ry="11" fill="#ec7630" stroke="#b8541e"/><ellipse cx="960" cy="1447" rx="8" ry="11" fill="#ec7630" stroke="#b8541e"/>
 <ellipse cx="1052" cy="1447" rx="8" ry="11" fill="#c41e3e" stroke="#8e1430"/>

 <ellipse cx="1254" cy="1379" rx="8" ry="11" fill="#2a4862" stroke="#4b6a82"/><ellipse cx="1254" cy="1406" rx="8" ry="11" fill="#2a4862" stroke="#4b6a82"/>
 <ellipse cx="1254" cy="1433" rx="8" ry="11" fill="#1f9b8e" stroke="#167a70"/><ellipse cx="1254" cy="1460" rx="8" ry="11" fill="#1f9b8e" stroke="#167a70"/>
 <ellipse cx="1337" cy="1379" rx="8" ry="11" fill="#ec7630" stroke="#b8541e"/><ellipse cx="1337" cy="1406" rx="8" ry="11" fill="#ec7630" stroke="#b8541e"/>
 <ellipse cx="1337" cy="1433" rx="8" ry="11" fill="#ec7630" stroke="#b8541e"/><ellipse cx="1337" cy="1460" rx="8" ry="11" fill="#ec7630" stroke="#b8541e"/>
 <ellipse cx="1429" cy="1406" rx="8" ry="11" fill="#c41e3e" stroke="#8e1430"/><ellipse cx="1429" cy="1433" rx="8" ry="11" fill="#c41e3e" stroke="#8e1430"/>
</g>
<g fill="#fff" font-size="13">
 <text x="512" y="1377" class="b c">0</text><text x="512" y="1403" class="b c">0</text><text x="512" y="1430" class="b c">1</text><text x="512" y="1457" class="b c">1</text>
 <text x="595" y="1377" class="b c">0</text><text x="595" y="1403" class="b c">1</text><text x="595" y="1430" class="b c">0</text><text x="595" y="1457" class="b c">1</text>
 <text x="687" y="1378" class="b c" font-size="16">0</text><text x="687" y="1403" class="b c">1</text><text x="687" y="1430" class="b c">1</text><text x="687" y="1457" class="b c">1</text>
 <text x="876" y="1372" class="b c">0</text><text x="876" y="1399" class="b c">0</text><text x="876" y="1425" class="b c">1</text><text x="876" y="1452" class="b c">1</text>
 <text x="960" y="1372" class="b c">0</text><text x="960" y="1399" class="b c">1</text><text x="960" y="1425" class="b c">0</text><text x="960" y="1452" class="b c">1</text>
 <text x="1052" y="1373" class="b c" font-size="16">0</text><text x="1052" y="1400" class="b c" font-size="16">0</text><text x="1052" y="1426" class="b c" font-size="16">0</text><text x="1052" y="1452" class="b c">1</text>
 <text x="1254" y="1384" class="b c">0</text><text x="1254" y="1411" class="b c">0</text><text x="1254" y="1438" class="b c">1</text><text x="1254" y="1465" class="b c">1</text>
 <text x="1337" y="1384" class="b c">0</text><text x="1337" y="1411" class="b c">1</text><text x="1337" y="1438" class="b c">0</text><text x="1337" y="1465" class="b c">1</text>
 <text x="1429" y="1385" class="b c" font-size="16">0</text><text x="1429" y="1411" class="b c">1</text><text x="1429" y="1438" class="b c">1</text><text x="1429" y="1466" class="b c" font-size="16">0</text>
</g>

<!-- diagram labels (on top) -->
<g fill="#fff" font-size="17">
 <text x="118" y="359" class="b c">Entrada</text>
 <text x="385" y="359" class="b c">Salida (NOT)</text>
 <text x="486" y="722" class="b c">Entrada</text>
 <text x="486" y="746" class="b c">A</text>
 <text x="760" y="613" class="b c">Entrado B</text>
 <text x="862" y="676" class="b c">Entrada A</text>
 <text x="862" y="856" class="b c">Entrada B</text>
 <text x="1236" y="688" class="b c">Entrada A</text>
 <text x="1236" y="879" class="b c">Entrada B</text>
</g>

<!-- NotebookLM -->
<g fill="none" stroke="#fff" stroke-width="1.8">
 <path d="M1452,1561 V1556 A6,6 0 0 1 1464,1556 V1561"/>
 <path d="M1456,1561 V1557 A2.5,2.5 0 0 1 1461,1557 V1561"/>
</g>
<text x="1469" y="1561" fill="#fff" font-size="14">NotebookLM</text>
</svg>
</body></html>
